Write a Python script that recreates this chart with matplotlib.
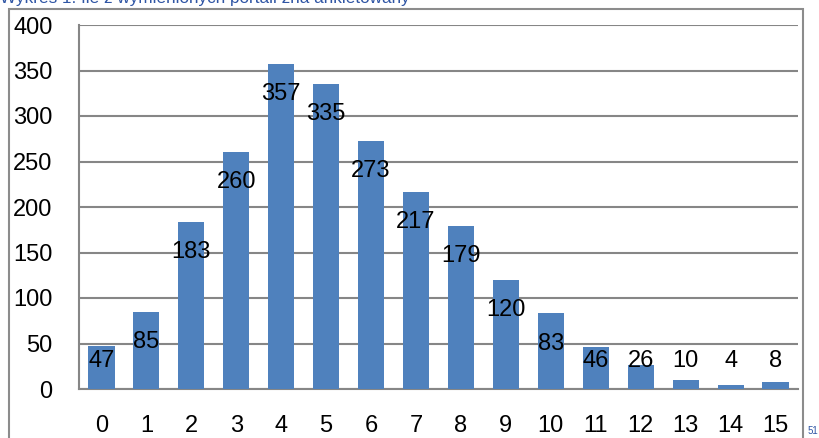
"""Wykres 1: liczba znanych portali wg ankietowanych."""
import matplotlib.pyplot as plt
from matplotlib.patches import Rectangle

plt.rcParams["font.family"] = ["Liberation Sans", "DejaVu Sans"]

# dane
liczba_portali = ["0", "1", "2", "3", "4", "5", "6", "7", "8", "9", "10", "11", "12", "13", "14", "15"]
ankietowani = [47, 85, 183, 260, 357, 335, 273, 217, 179, 120, 83, 46, 26, 10, 4, 8]
os_y = [0, 50, 100, 150, 200, 250, 300, 350, 400]

KOLOR_SLUPKA = "#4F81BD"
KOLOR_SIATKI = "#868686"
KOLOR_TYTULU = "#2F55A4"

W, H = 820, 438
fig = plt.figure(figsize=(W / 100, H / 100), dpi=100)
ax = fig.add_axes([79 / W, 1 - 389 / H, (798 - 79) / W, (389 - 25) / H])

x = list(range(len(ankietowani)))
ax.bar(x, ankietowani, width=0.58, color=KOLOR_SLUPKA, zorder=3)

# etykiety wartości wewnątrz słupków (przy niskich słupkach nad nimi)
for xi, v in zip(x, ankietowani):
    ax.text(xi, max(v - 33, 31), str(v), ha="center", va="center",
            fontsize=17, color="black", zorder=4)

ax.set_xlim(-0.5, len(ankietowani) - 0.5)
ax.set_ylim(0, 400)
ax.set_yticks(os_y)
ax.set_yticklabels([str(v) for v in os_y])
ax.set_xticks(x)
ax.set_xticklabels(liczba_portali)
ax.tick_params(axis="both", length=0, labelsize=17)
ax.tick_params(axis="y", pad=19)
ax.tick_params(axis="x", pad=19)

ax.grid(axis="y", color=KOLOR_SIATKI, linewidth=1.5, zorder=0)
ax.set_axisbelow(True)
for s in ["top", "right"]:
    ax.spines[s].set_visible(False)
for s in ["left", "bottom"]:
    ax.spines[s].set_color(KOLOR_SIATKI)
    ax.spines[s].set_linewidth(1.5)

# ramka obszaru wykresu
fig.patches.append(Rectangle((9 / W, -0.1), (803 - 9) / W, 1.1 - 9 / H,
                             transform=fig.transFigure, fill=False,
                             edgecolor="#8C8C8C", linewidth=1.5))

fig.text(0.0, 1 - 3 / H, "Wykres 1. Ile z wymienionych portali zna ankietowany",
         ha="left", va="baseline", fontsize=12.3, color=KOLOR_TYTULU)
fig.text(808 / W, 1 - 434 / H, "51", ha="left", va="baseline",
         fontsize=7, color=KOLOR_TYTULU)

fig.savefig("out.png", dpi=100)
